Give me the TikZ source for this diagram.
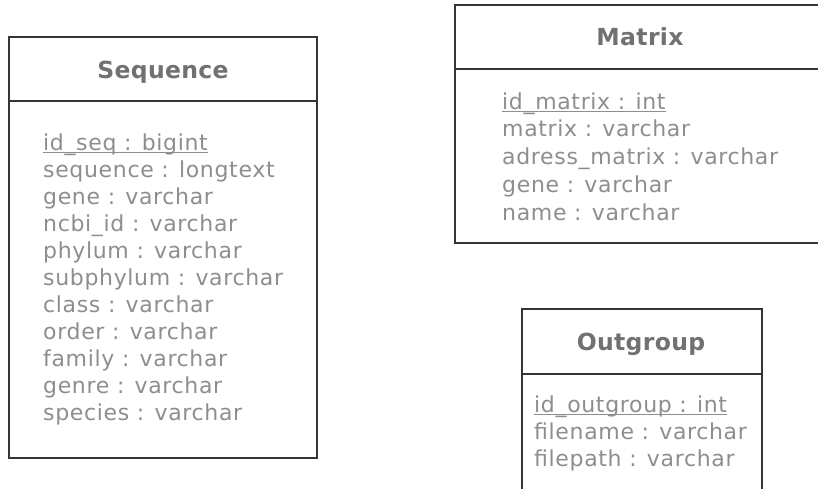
\documentclass[tikz,border=0pt]{standalone}
\usepackage{fontspec}
\setmainfont{DejaVu Sans}
\newfontfamily\fieldface[LetterSpace=3]{DejaVu Sans}
\newfontfamily\titleface[LetterSpace=1.5]{DejaVu Sans Bold}
\definecolor{titlegray}{HTML}{717171}
\definecolor{fieldgray}{HTML}{8E8E8E}
\definecolor{edgegray}{HTML}{353535}
\begin{document}
\begin{tikzpicture}[x=1pt,y=-1pt,
  table/.style={draw=edgegray, line width=1.5pt},
  tabletitle/.style={font=\fontsize{23.5}{27}\titleface, text=titlegray, inner sep=0pt, anchor=base},
  field/.style={font=\fontsize{22}{26}\fieldface, text=fieldgray, inner sep=0pt, anchor=base west},
  keyline/.style={draw=fieldgray, line width=0.9pt}]
\useasboundingbox (0,0) rectangle (818,488);
\clip (0,0) rectangle (818,488);
\fill[white] (0,0) rectangle (818,488);

% Sequence table
\draw[table] (9,37) rectangle (317,458);
\draw[table] (9,101) -- (317,101);
\node[tabletitle] (seqtitle) at (163,78) {Sequence};
\node[field] (seqkey) at (43,150) {id\_seq : bigint};
\draw[keyline] ([yshift=-2.5pt]seqkey.base west) -- ([yshift=-2.5pt]seqkey.base east);
\foreach \t [count=\i] in {sequence : longtext, gene : varchar, ncbi\_id : varchar,
    phylum : varchar, subphylum : varchar, class : varchar, order : varchar,
    family : varchar, genre : varchar, species : varchar}
  \node[field] (seq\i) at (43,150+27*\i) {\t};

% Matrix table
\draw[table] (455,5) rectangle (832,243);
\draw[table] (455,69) -- (832,69);
\node[tabletitle] (mattitle) at (640,45) {Matrix};
\node[field] (matkey) at (502,109) {id\_matrix : int};
\draw[keyline] ([yshift=-2.5pt]matkey.base west) -- ([yshift=-2.5pt]matkey.base east);
\foreach \t [count=\i] in {matrix : varchar, adress\_matrix : varchar,
    gene : varchar, name : varchar}
  \node[field] (mat\i) at (502,109+27.75*\i) {\t};

% Outgroup table
\draw[table] (522,309) rectangle (762,500);
\draw[table] (522,374) -- (762,374);
\node[tabletitle] (outtitle) at (641,350) {Outgroup};
\node[field] (outkey) at (534,412) {id\_outgroup : int};
\draw[keyline] ([yshift=-2.5pt]outkey.base west) -- ([yshift=-2.5pt]outkey.base east);
\foreach \t [count=\i] in {filename : varchar, filepath : varchar}
  \node[field] (out\i) at (534,412+27*\i) {\t};
\end{tikzpicture}
\end{document}
